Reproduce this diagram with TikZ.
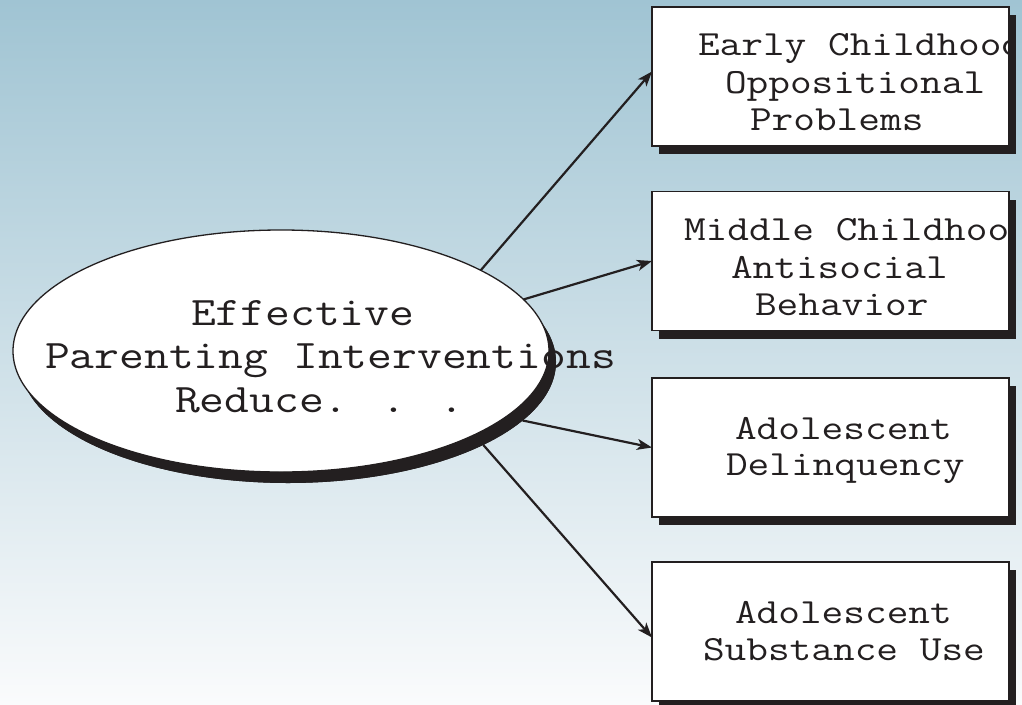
\documentclass[tikz,border=0pt]{standalone}
\usepackage{fontspec}
\usepackage{graphicx}
\usetikzlibrary{shapes.geometric,arrows.meta}
\definecolor{ink}{RGB}{35,31,32}
\definecolor{skytop}{RGB}{160,196,211}
\definecolor{skybot}{RGB}{250,251,252}
% typewriter lines, slightly flattened
\newcommand\flatline[1]{\scalebox{1}[0.84]{#1}}
\begin{document}
\begin{tikzpicture}[x=1pt,y=-1pt,
  every node/.style={inner sep=0pt,outer sep=0pt},
  boxshape/.style={rectangle,draw=ink,line width=1.3pt,fill=white,minimum width=357pt,minimum height=139pt},
  boxshade/.style={rectangle,fill=ink,minimum width=357pt,minimum height=139pt},
  ovalshape/.style={ellipse,minimum width=536pt,minimum height=242pt},
  bigline/.style={anchor=base west,font=\ttfamily\fontsize{48.2}{48}\selectfont,text=ink},
  smallline/.style={anchor=base west,font=\ttfamily\fontsize{42.1}{42}\selectfont,text=ink},
  link/.style={draw=ink,line width=2.2pt,-{Stealth[length=15pt,width=11pt,inset=4pt]}}]

% backdrop
\useasboundingbox (0,0) rectangle (1022,704);
\shade[top color=skytop,bottom color=skybot] (0,0) rectangle (1022,704);

% outcome boxes with drop shadows
\foreach \n/\y in {1/76.5,2/261,3/447.5,4/631.5}{
  \node[boxshade] (s\n) at (837.5,\y+8) {};
  \node[boxshape] (b\n) at (830.5,\y) {};
}

\begin{scope}
  \clip (652,0) rectangle (1008.5,704);
  \node[smallline] (t1a) at (698,55)  {\flatline{Early Childhood}};
  \node[smallline] (t1b) at (725,93)  {\flatline{Oppositional}};
  \node[smallline] (t1c) at (750,130) {\flatline{Problems}};
  \node[smallline] (t2a) at (684,240) {\flatline{Middle Childhood}};
  \node[smallline] (t2b) at (731,278) {\flatline{Antisocial}};
  \node[smallline] (t2c) at (755,315) {\flatline{Behavior}};
  \node[smallline] (t3a) at (735,439) {\flatline{Adolescent}};
  \node[smallline] (t3b) at (726,475) {\flatline{Delinquency}};
  \node[smallline] (t4a) at (735,623) {\flatline{Adolescent}};
  \node[smallline] (t4b) at (703,660) {\flatline{Substance Use}};
\end{scope}

% central oval with its shadow
\node[ovalshape,fill=ink] (ellsh) at (288,362) {};
\node[ovalshape,fill=white,draw=ink,line width=1.3pt] (ell) at (281,351) {};
\node[bigline] (e1) at (191,325) {\flatline{Effective}};
\node[bigline] (e2) at (45,368)  {\flatline{Parenting Interventions}};
\node[bigline] (e3) at (175,412) {\flatline{Reduce. . .}};

% shadow crescent laid over the overflowing text
\begin{scope}
  \clip (288,362) ellipse [x radius=268, y radius=121];
  \fill[ink,even odd rule] (0,0) rectangle (1022,704)
    (281,351) ellipse [x radius=268, y radius=121];
\end{scope}

% connectors
\draw[link] (ell.22) -- ([yshift=5pt]b1.west);
\draw[link] (ell.12) -- (b2.west);
\draw[link] (ellsh.-14) -- (b3.west);
\draw[link] (ellsh.-23.5) -- ([yshift=-6pt]b4.west);
\end{tikzpicture}
\end{document}
